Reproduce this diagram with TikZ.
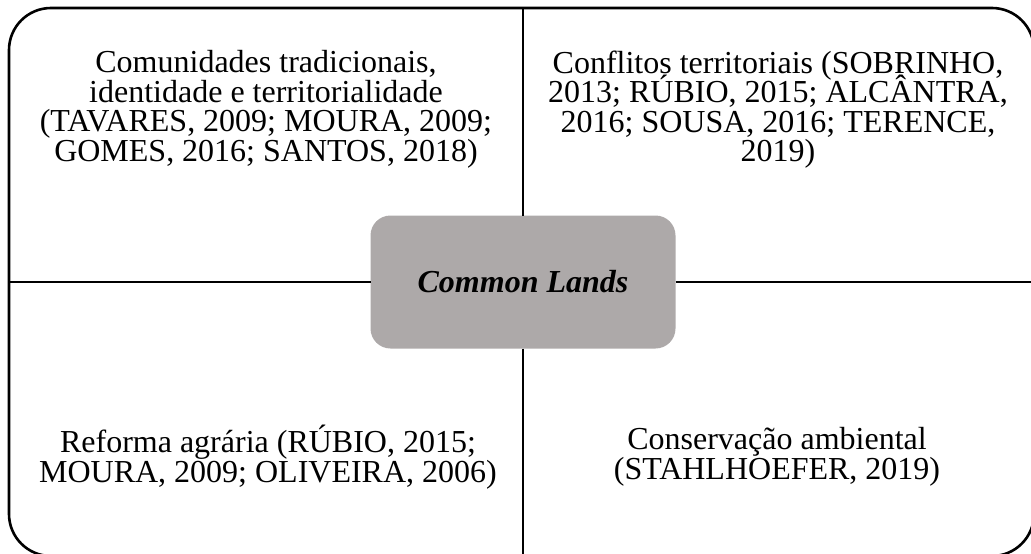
\documentclass[tikz,border=0pt]{standalone}
\usepackage{fontspec}
\setmainfont{Liberation Serif}
\definecolor{hubgray}{RGB}{173,169,169}
\begin{document}
\begin{tikzpicture}[x=1pt,y=-1pt,
  frame/.style={draw, line width=2.6pt, rounded corners=42pt, inner sep=0pt, outer sep=0pt},
  hub/.style={fill=hubgray, rounded corners=20pt, minimum width=305pt, minimum height=133pt,
    inner sep=0pt, outer sep=0pt, font=\fontsize{32}{36}\selectfont\bfseries\itshape},
  quad/.style={align=center, inner sep=0pt, font={\fontsize{32}{29.5}\selectfont\lineskiplimit=-100pt\lineskip=0pt}},
  divider/.style={line width=2.6pt}]
\useasboundingbox (0,0) rectangle (1031,554);
\node[frame, minimum width=1025pt, minimum height=548pt] (outer) at (521.5,282) {};
\node[hub] (hub) at (523,282) {Common Lands};
\draw[divider] (hub.north) -- (hub.north |- outer.north);
\draw[divider] (hub.south) -- (hub.south |- outer.south);
\draw[divider] (hub.west) -- (hub.west -| outer.west);
\draw[divider] (hub.east) -- (hub.east -| outer.east);
\node[quad] (ul) at (266,109.5) {Comunidades tradicionais,\\identidade e territorialidade\\(TAVARES, 2009; MOURA, 2009;\\GOMES, 2016; SANTOS, 2018)};
\node[quad] (ur) at (778,109.5) {Conflitos territoriais (SOBRINHO,\\2013; RÚBIO, 2015; ALCÂNTRA,\\2016; SOUSA, 2016; TERENCE,\\2019)};
\node[quad] (ll) at (268,457) {Reforma agrária (RÚBIO, 2015;\\MOURA, 2009; OLIVEIRA, 2006)};
\node[quad] (lr) at (777,457) {Conservação ambiental\\(STAHLHOEFER, 2019)};
\end{tikzpicture}
\end{document}
